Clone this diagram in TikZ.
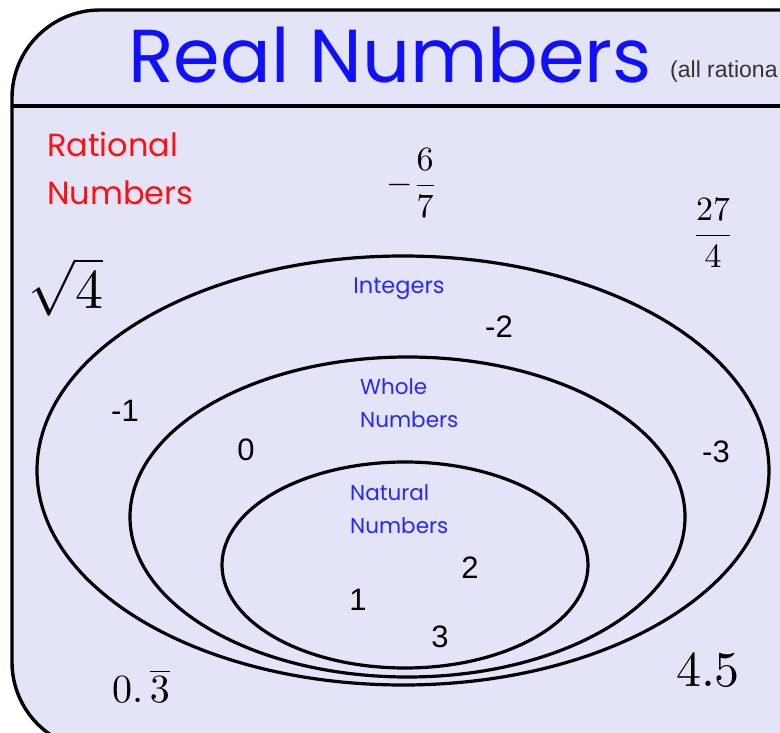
\documentclass[tikz,border=0pt]{standalone}
\usepackage{graphicx}
\usepackage{fontspec}
\usepackage{amsmath}
\usetikzlibrary{shapes.geometric}
\setmainfont{Liberation Sans}
\newfontfamily\comicfont{Poppins}
\definecolor{panelfill}{RGB}{228,228,248}
\definecolor{titleblue}{RGB}{16,16,250}
\definecolor{labelblue}{RGB}{40,40,250}
\definecolor{labelred}{RGB}{255,16,16}
\definecolor{notegray}{RGB}{51,51,51}

\begin{document}
\begin{tikzpicture}[x=1pt, y=-1pt,
    ring/.style = {draw, ellipse, line width=3.2pt, inner sep=0pt},
    setname/.style = {font=\comicfont\fontsize{21.5}{33}\selectfont, text=labelblue, inner sep=0pt, align=left},
    num/.style = {font=\fontsize{31}{36}\selectfont, inner sep=0pt},
    mathnum/.style = {font=\fontsize{10}{12}\selectfont, inner sep=0pt}]
  \useasboundingbox (0,0) rectangle (780,733);
  \clip (0,0) rectangle (780,733);

  % panel and title bar
  \draw[line width=3.4pt, fill=panelfill, rounded corners=88pt] (12,10) rectangle (900,750);
  \draw[line width=3.4pt] (12,106) -- (790,106);
  \node[anchor=base west, inner sep=0pt, text=titleblue, font=\comicfont\fontsize{75}{85}\selectfont] (title) at (128,83) {Real Numbers};
  \node[anchor=base west, inner sep=0pt, text=notegray, font=\fontsize{23}{28}\selectfont] (note) at (670,78) {(all rationa};

  % the three sets
  \node[ring, minimum width=732pt, minimum height=429pt] (intset) at (403,470.5) {};
  \node[ring, minimum width=555pt, minimum height=320pt] (wholeset) at (407.5,517) {};
  \node[ring, minimum width=366pt, minimum height=206pt] (natset) at (405,565) {};

  % set names
  \node[setname, text=labelred, font=\comicfont\fontsize{32}{48}\selectfont, anchor=north west] (rational) at (47,132) {Rational\\Numbers};
  \node[setname, font=\comicfont\fontsize{22.5}{33}\selectfont] (integers) at (399,289) {Integers};
  \node[setname, anchor=north west] (whole) at (360,378) {Whole\\Numbers};
  \node[setname, anchor=north west] (natural) at (350,484) {Natural\\Numbers};

  % members
  \node[num] (mtwo) at (499,327) {-2};
  \node[num] (mone) at (125,411) {-1};
  \node[num] (mthree) at (716,452) {-3};
  \node[num] (zero) at (246,450) {0};
  \node[num] (one) at (358,600) {1};
  \node[num] (two) at (470,568) {2};
  \node[num] (three) at (440,637) {3};

  \node[mathnum] (sixsev) at (412,183) {\scalebox{3.4}{$-\dfrac{6}{7}$}};
  \node[mathnum] (twsev) at (713,233) {\scalebox{3.4}{$\dfrac{27}{4}$}};
  \node[mathnum] (rootfour) at (66,287) {\scalebox{5.6}{$\sqrt{4}$}};
  \node[mathnum] (third) at (141,686) {\scalebox{4}{$0.\,\overline{3}$}};
  \node[mathnum] (fourfive) at (708,670) {\scalebox{5}{$4.5$}};
\end{tikzpicture}
\end{document}
